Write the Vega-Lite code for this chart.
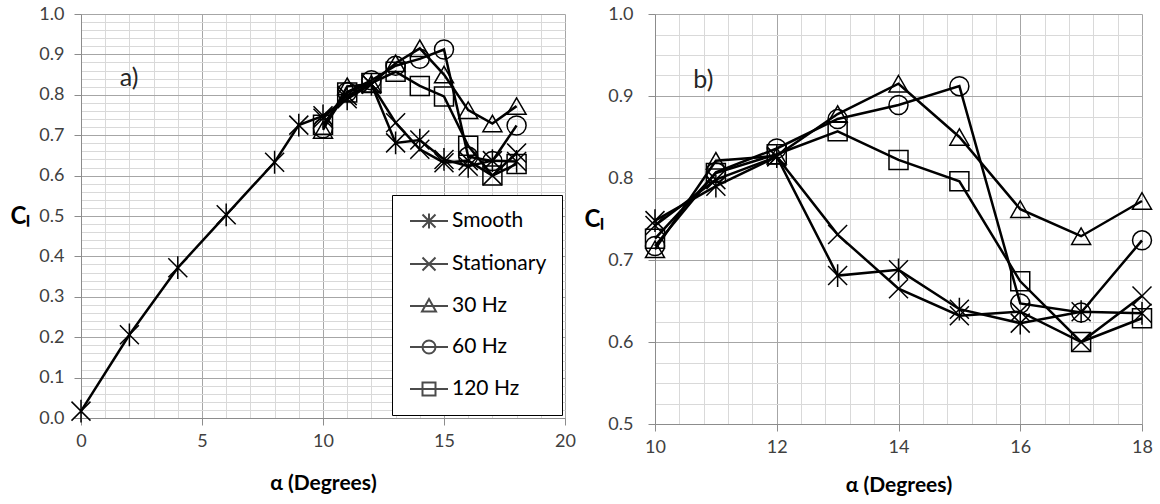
{
 "$schema": "https://vega.github.io/schema/vega-lite/v6.json",
 "padding": {"left": 9, "top": 5, "right": 5, "bottom": 5},
 "spacing": 7,
 "config": {
  "font": "Lato",
  "view": {"stroke": null},
  "axis": {
   "labelFont": "Lato", "labelFontSize": 18, "labelColor": "#404040",
   "titleFont": "Lato", "titleFontSize": 21, "titleFontWeight": "bold", "titleColor": "#000000",
   "domainColor": "#8c8c8c", "domainWidth": 1, "tickColor": "#8c8c8c", "tickSize": 7, "tickWidth": 1,
   "gridWidth": 1
  }
 },
 "datasets": {
  "cl": [
   {"series": "Smooth", "alpha": 0, "cl": 0.017},
   {"series": "Smooth", "alpha": 2, "cl": 0.206},
   {"series": "Smooth", "alpha": 4, "cl": 0.372},
   {"series": "Smooth", "alpha": 6, "cl": 0.503},
   {"series": "Smooth", "alpha": 8, "cl": 0.633},
   {"series": "Smooth", "alpha": 9, "cl": 0.725},
   {"series": "Smooth", "alpha": 10, "cl": 0.748},
   {"series": "Smooth", "alpha": 11, "cl": 0.790},
   {"series": "Smooth", "alpha": 12, "cl": 0.826},
   {"series": "Smooth", "alpha": 13, "cl": 0.681},
   {"series": "Smooth", "alpha": 14, "cl": 0.688},
   {"series": "Smooth", "alpha": 15, "cl": 0.640},
   {"series": "Smooth", "alpha": 16, "cl": 0.623},
   {"series": "Smooth", "alpha": 17, "cl": 0.637},
   {"series": "Smooth", "alpha": 18, "cl": 0.635},
   {"series": "Stationary", "alpha": 10, "cl": 0.742},
   {"series": "Stationary", "alpha": 11, "cl": 0.798},
   {"series": "Stationary", "alpha": 12, "cl": 0.826},
   {"series": "Stationary", "alpha": 13, "cl": 0.731},
   {"series": "Stationary", "alpha": 14, "cl": 0.665},
   {"series": "Stationary", "alpha": 15, "cl": 0.632},
   {"series": "Stationary", "alpha": 16, "cl": 0.637},
   {"series": "Stationary", "alpha": 17, "cl": 0.600},
   {"series": "Stationary", "alpha": 18, "cl": 0.656},
   {"series": "30 Hz", "alpha": 10, "cl": 0.713},
   {"series": "30 Hz", "alpha": 11, "cl": 0.821},
   {"series": "30 Hz", "alpha": 12, "cl": 0.827},
   {"series": "30 Hz", "alpha": 13, "cl": 0.878},
   {"series": "30 Hz", "alpha": 14, "cl": 0.915},
   {"series": "30 Hz", "alpha": 15, "cl": 0.850},
   {"series": "30 Hz", "alpha": 16, "cl": 0.762},
   {"series": "30 Hz", "alpha": 17, "cl": 0.729},
   {"series": "30 Hz", "alpha": 18, "cl": 0.772},
   {"series": "60 Hz", "alpha": 10, "cl": 0.717},
   {"series": "60 Hz", "alpha": 11, "cl": 0.807},
   {"series": "60 Hz", "alpha": 12, "cl": 0.836},
   {"series": "60 Hz", "alpha": 13, "cl": 0.872},
   {"series": "60 Hz", "alpha": 14, "cl": 0.889},
   {"series": "60 Hz", "alpha": 15, "cl": 0.912},
   {"series": "60 Hz", "alpha": 16, "cl": 0.647},
   {"series": "60 Hz", "alpha": 17, "cl": 0.636},
   {"series": "60 Hz", "alpha": 18, "cl": 0.724},
   {"series": "120 Hz", "alpha": 10, "cl": 0.726},
   {"series": "120 Hz", "alpha": 11, "cl": 0.806},
   {"series": "120 Hz", "alpha": 12, "cl": 0.829},
   {"series": "120 Hz", "alpha": 13, "cl": 0.857},
   {"series": "120 Hz", "alpha": 14, "cl": 0.822},
   {"series": "120 Hz", "alpha": 15, "cl": 0.796},
   {"series": "120 Hz", "alpha": 16, "cl": 0.674},
   {"series": "120 Hz", "alpha": 17, "cl": 0.600},
   {"series": "120 Hz", "alpha": 18, "cl": 0.629}
  ],
  "notes": [
   {"panel": "a", "label": "a)", "alpha": 1.6, "cl": 0.842},
   {"panel": "b", "label": "b)", "alpha": 10.63, "cl": 0.919}
  ]
 },
 "hconcat": [
  {
   "width": 484,
   "height": 404,
   "data": {"name": "cl"},
   "encoding": {
    "x": {"field": "alpha", "type": "quantitative", "title": "α (Degrees)",
     "scale": {"domain": [0, 20], "nice": false, "zero": false},
     "axis": {
      "values": [0,1,2,3,4,5,6,7,8,9,10,11,12,13,14,15,16,17,18,19,20],
      "format": ".0f",
      "labelExpr": "datum.value % 5 === 0 ? datum.label : ''",
      "gridColor": {"condition": {"test": "datum.value % 5 === 0", "value": "#a6a6a6"}, "value": "#d9d9d9"},
      "tickOpacity": {"condition": {"test": "datum.value % 5 === 0", "value": 1}, "value": 0},
      "labelPadding": 7, "titlePadding": 22, "labelFlush": false
     }
    },
    "y": {"field": "cl", "type": "quantitative", "title": "Cₗ",
     "scale": {"domain": [0, 1], "nice": false, "zero": false},
     "axis": {
      "values": [0,0.02,0.04,0.06,0.08,0.1,0.12,0.14,0.16,0.18,0.2,0.22,0.24,0.26,0.28,0.3,0.32,0.34,0.36,0.38,0.4,0.42,0.44,0.46,0.48,0.5,0.52,0.54,0.56,0.58,0.6,0.62,0.64,0.66,0.68,0.7,0.72,0.74,0.76,0.78,0.8,0.82,0.84,0.86,0.88,0.9,0.92,0.94,0.96,0.98,1],
      "format": ".1f",
      "labelExpr": "abs(datum.value*10 - round(datum.value*10)) < 0.001 ? datum.label : ''",
      "gridColor": {"condition": {"test": "abs(datum.value*10 - round(datum.value*10)) < 0.001", "value": "#a6a6a6"}, "value": "#d9d9d9"},
      "tickOpacity": {"condition": {"test": "abs(datum.value*10 - round(datum.value*10)) < 0.001", "value": 1}, "value": 0},
      "labelPadding": 10, "titlePadding": 19, "titleAngle": 0, "titleBaseline": "middle", "titleFontSize": 24, "labelFlush": false
     }
    }
   },
   "layer": [
    {"mark": {"type": "line", "color": "black", "strokeWidth": 2.5},
     "encoding": {"detail": {"field": "series"}}},
    {"mark": {"type": "point", "color": "black", "filled": false, "strokeWidth": 1.5, "size": 361, "opacity": 1},
     "encoding": {"shape": {"field": "series", "type": "nominal",
      "scale": {"domain": ["Smooth", "Stationary", "30 Hz", "60 Hz", "120 Hz"],
       "range": ["M-1,-1L1,1M-1,1L1,-1M0,-1.2L0,1.2", "M-1,-1L1,1M-1,1L1,-1", "triangle-up", "circle", "square"]},
      "legend": null}}},
    {"transform": [{"filter": "datum.alpha < -100"}],
     "mark": {"type": "point", "color": "black", "filled": false, "strokeWidth": 2},
     "encoding": {"shape": {"field": "series", "type": "nominal",
      "scale": {"domain": ["Smooth", "Stationary", "30 Hz", "60 Hz", "120 Hz"],
       "range": [
        "M-0.8,0L3,0M0.45,-0.65L1.75,0.65M0.45,0.65L1.75,-0.65M1.1,-0.75L1.1,0.75",
        "M-0.8,0L3,0M0.45,-0.65L1.75,0.65M0.45,0.65L1.75,-0.65",
        "M-0.8,0L3,0M1.1,-0.7L1.8,0.55L0.4,0.55Z",
        "M-0.8,0L3,0M1.75,0A0.65,0.65 0 1 1 0.45,0A0.65,0.65 0 1 1 1.75,0Z",
        "M-0.8,0L3,0M0.45,-0.65L1.75,-0.65L1.75,0.65L0.45,0.65Z"
       ]},
      "legend": {"title": null, "orient": "bottom-right", "offset": 3,
       "strokeColor": "black", "fillColor": "white", "padding": 15,
       "symbolSize": 400, "symbolStrokeWidth": 2, "symbolStrokeColor": "black", "symbolFillColor": "transparent",
       "labelFont": "Lato", "labelFontSize": 21, "labelColor": "black", "labelOffset": 23,
       "rowPadding": 20, "labelLimit": 200}}}},
    {"data": {"name": "notes"}, "transform": [{"filter": "datum.panel === 'a'"}],
     "mark": {"type": "text", "align": "left", "baseline": "middle", "fontSize": 25, "color": "#262626"},
     "encoding": {"text": {"field": "label"}}}
   ],
   "resolve": {"scale": {"shape": "independent"}}
  },
  {
   "width": 487,
   "height": 410,
   "data": {"name": "cl"},
   "encoding": {
    "x": {"field": "alpha", "type": "quantitative", "title": "α (Degrees)",
     "scale": {"domain": [10, 18], "nice": false, "zero": false},
     "axis": {
      "values": [10,10.4,10.8,11.2,11.6,12,12.4,12.8,13.2,13.6,14,14.4,14.8,15.2,15.6,16,16.4,16.8,17.2,17.6,18],
      "format": ".0f",
      "labelExpr": "abs(datum.value/2 - round(datum.value/2)) < 0.001 ? datum.label : ''",
      "gridColor": {"condition": {"test": "abs(datum.value/2 - round(datum.value/2)) < 0.001", "value": "#a6a6a6"}, "value": "#d9d9d9"},
      "tickOpacity": {"condition": {"test": "abs(datum.value/2 - round(datum.value/2)) < 0.001", "value": 1}, "value": 0},
      "labelPadding": 7, "titlePadding": 18, "labelFlush": false
     }
    },
    "y": {"field": "cl", "type": "quantitative", "title": "Cₗ",
     "scale": {"domain": [0.5, 1], "nice": false, "zero": false},
     "axis": {
      "values": [0.5,0.525,0.55,0.575,0.6,0.625,0.65,0.675,0.7,0.725,0.75,0.775,0.8,0.825,0.85,0.875,0.9,0.925,0.95,0.975,1],
      "format": ".1f",
      "labelExpr": "abs(datum.value*10 - round(datum.value*10)) < 0.001 ? datum.label : ''",
      "gridColor": {"condition": {"test": "abs(datum.value*10 - round(datum.value*10)) < 0.001", "value": "#a6a6a6"}, "value": "#d9d9d9"},
      "tickOpacity": {"condition": {"test": "abs(datum.value*10 - round(datum.value*10)) < 0.001", "value": 1}, "value": 0},
      "labelPadding": 15, "titlePadding": 14, "titleAngle": 0, "titleBaseline": "middle", "titleFontSize": 24, "labelFlush": false
     }
    }
   },
   "layer": [
    {"transform": [{"filter": "datum.alpha >= 10"}],
     "mark": {"type": "line", "color": "black", "strokeWidth": 2.5},
     "encoding": {"detail": {"field": "series"}}},
    {"transform": [{"filter": "datum.alpha >= 10"}],
     "mark": {"type": "point", "color": "black", "filled": false, "strokeWidth": 1.5, "size": 361, "opacity": 1},
     "encoding": {"shape": {"field": "series", "type": "nominal",
      "scale": {"domain": ["Smooth", "Stationary", "30 Hz", "60 Hz", "120 Hz"],
       "range": ["M-1,-1L1,1M-1,1L1,-1M0,-1.2L0,1.2", "M-1,-1L1,1M-1,1L1,-1", "triangle-up", "circle", "square"]},
      "legend": null}}},
    {"data": {"name": "notes"}, "transform": [{"filter": "datum.panel === 'b'"}],
     "mark": {"type": "text", "align": "left", "baseline": "middle", "fontSize": 25, "color": "#262626"},
     "encoding": {"text": {"field": "label"}}}
   ]
  }
 ]
}
